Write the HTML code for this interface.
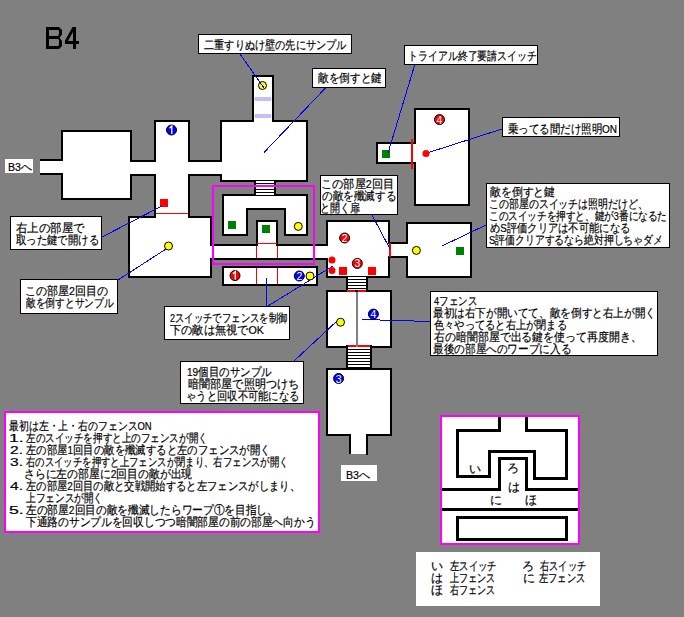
<!DOCTYPE html>
<html><head><meta charset="utf-8"><style>
html,body{margin:0;padding:0;width:684px;height:617px;overflow:hidden;background:#808080;font-family:"Liberation Sans",sans-serif;}
svg{position:absolute;left:0;top:0}
.b{position:absolute;background:#fff;}
.t{position:absolute;white-space:nowrap;color:#000;font-size:11.5px;line-height:12px;-webkit-text-stroke:0.2px #000;transform-origin:0 0;}
.title{position:absolute;left:44px;top:20px;font-size:30px;line-height:34px;color:#000;}
</style></head><body>
<svg width="684" height="617" shape-rendering="crispEdges">
<rect x="61" y="130" width="71" height="70" fill="#000"/>
<rect x="40" y="159" width="23" height="16" fill="#000"/>
<rect x="130" y="160" width="26" height="16" fill="#000"/>
<rect x="154" y="120" width="36" height="98" fill="#000"/>
<rect x="128" y="216" width="84" height="62" fill="#000"/>
<rect x="188" y="160" width="34" height="16" fill="#000"/>
<rect x="220" y="120" width="88" height="62" fill="#000"/>
<rect x="252" y="75" width="22" height="47" fill="#000"/>
<rect x="222" y="194" width="86" height="42" fill="#000"/>
<rect x="256" y="220" width="22" height="26" fill="#000"/>
<rect x="210" y="244" width="118" height="16" fill="#000"/>
<rect x="222" y="266" width="96" height="20" fill="#000"/>
<rect x="326" y="220" width="64" height="58" fill="#000"/>
<rect x="388" y="242" width="20" height="16" fill="#000"/>
<rect x="406" y="222" width="66" height="56" fill="#000"/>
<rect x="414" y="108" width="56" height="98" fill="#000"/>
<rect x="376" y="142" width="40" height="22" fill="#000"/>
<rect x="326" y="290" width="66" height="58" fill="#000"/>
<rect x="326" y="368" width="66" height="68" fill="#000"/>
<rect x="349" y="434" width="19" height="20" fill="#000"/>
<rect x="63" y="132" width="67" height="66" fill="#fff"/>
<rect x="40" y="161" width="23" height="12" fill="#fff"/>
<rect x="130" y="162" width="26" height="12" fill="#fff"/>
<rect x="156" y="122" width="32" height="96" fill="#fff"/>
<rect x="130" y="218" width="80" height="58" fill="#fff"/>
<rect x="188" y="162" width="34" height="12" fill="#fff"/>
<rect x="222" y="122" width="84" height="58" fill="#fff"/>
<rect x="254" y="77" width="18" height="45" fill="#fff"/>
<rect x="224" y="196" width="82" height="38" fill="#fff"/>
<rect x="258" y="222" width="18" height="24" fill="#fff"/>
<rect x="210" y="246" width="118" height="12" fill="#fff"/>
<rect x="224" y="268" width="92" height="16" fill="#fff"/>
<rect x="328" y="222" width="60" height="54" fill="#fff"/>
<rect x="388" y="244" width="20" height="12" fill="#fff"/>
<rect x="408" y="224" width="62" height="52" fill="#fff"/>
<rect x="416" y="110" width="52" height="94" fill="#fff"/>
<rect x="378" y="144" width="38" height="18" fill="#fff"/>
<rect x="328" y="292" width="62" height="54" fill="#fff"/>
<rect x="328" y="370" width="62" height="64" fill="#fff"/>
<rect x="351" y="434" width="15" height="20" fill="#fff"/>
<rect x="366" y="454" width="2" height="1" fill="#000"/>
<rect x="246" y="208" width="40" height="28" fill="#000"/>
<rect x="248" y="210" width="36" height="26" fill="#808080"/>
<rect x="256" y="220" width="22" height="26" fill="#000"/>
<rect x="258" y="222" width="18" height="24" fill="#fff"/>
<rect x="210" y="246" width="118" height="12" fill="#fff"/>
<rect x="254" y="180" width="22" height="16" fill="#000"/>
<rect x="256" y="181" width="18" height="2" fill="#fff"/>
<rect x="256" y="184" width="18" height="2" fill="#fff"/>
<rect x="256" y="187" width="18" height="2" fill="#fff"/>
<rect x="256" y="190" width="18" height="2" fill="#fff"/>
<rect x="256" y="193" width="18" height="2" fill="#fff"/>
<rect x="346" y="276" width="22" height="14" fill="#000"/>
<rect x="348" y="277" width="18" height="2" fill="#fff"/>
<rect x="348" y="280" width="18" height="2" fill="#fff"/>
<rect x="348" y="283" width="18" height="2" fill="#fff"/>
<rect x="348" y="286" width="18" height="2" fill="#fff"/>
<rect x="348" y="289" width="18" height="1" fill="#fff"/>
<rect x="346" y="345" width="26" height="24" fill="#000"/>
<rect x="348" y="347" width="22" height="2" fill="#fff"/>
<rect x="348" y="350" width="22" height="2" fill="#fff"/>
<rect x="348" y="353" width="22" height="2" fill="#fff"/>
<rect x="348" y="356" width="22" height="2" fill="#fff"/>
<rect x="348" y="359" width="22" height="2" fill="#fff"/>
<rect x="348" y="362" width="22" height="2" fill="#fff"/>
<rect x="348" y="365" width="22" height="2" fill="#fff"/>
<rect x="255" y="97" width="16" height="4" fill="#c0c0ff"/>
<rect x="255" y="114" width="16" height="4" fill="#c0c0ff"/>
<rect x="254" y="98" width="1" height="2" fill="#e0e0ff"/>
<rect x="271" y="98" width="1" height="2" fill="#e0e0ff"/>
<rect x="254" y="115" width="1" height="2" fill="#e0e0ff"/>
<rect x="271" y="115" width="1" height="2" fill="#e0e0ff"/>
<rect x="156" y="213" width="32" height="1" fill="#f00"/>
<rect x="257" y="243" width="20" height="1" fill="#f00"/>
<rect x="256" y="246" width="1" height="12" fill="#f00"/>
<rect x="277" y="246" width="1" height="12" fill="#f00"/>
<rect x="256" y="268" width="1" height="16" fill="#f00"/>
<rect x="277" y="268" width="1" height="16" fill="#f00"/>
<rect x="389" y="243" width="2" height="14" fill="#f00"/>
<rect x="411" y="139" width="2" height="30" fill="#f00"/>
<rect x="347" y="290" width="8" height="2" fill="#f00"/>
<rect x="358" y="290" width="8" height="2" fill="#f00"/>
<rect x="348" y="345" width="8" height="2" fill="#f00"/>
<rect x="358" y="345" width="12" height="2" fill="#f00"/>
<rect x="356" y="292" width="2" height="55" fill="#808080"/>
<rect x="228" y="221" width="8" height="8" fill="#008000"/>
<rect x="262" y="225" width="8" height="8" fill="#008000"/>
<rect x="382" y="150" width="8" height="8" fill="#008000"/>
<rect x="456" y="247" width="8" height="8" fill="#008000"/>
<rect x="160" y="199" width="8" height="8" fill="#f00"/>
<rect x="339" y="267" width="8" height="8" fill="#f00"/>
<rect x="368" y="267" width="8" height="8" fill="#f00"/>
<line x1="325.5" y1="88" x2="264" y2="152.5" stroke="#00f" stroke-width="1"/>
<line x1="415" y1="64" x2="388" y2="153" stroke="#00f" stroke-width="1"/>
<line x1="502" y1="129" x2="427" y2="153" stroke="#00f" stroke-width="1"/>
<line x1="102" y1="237" x2="162" y2="206" stroke="#00f" stroke-width="1"/>
<line x1="118" y1="280" x2="166" y2="249" stroke="#00f" stroke-width="1"/>
<line x1="266.5" y1="306" x2="266.5" y2="278" stroke="#00f" stroke-width="1"/>
<line x1="268" y1="306" x2="333" y2="266" stroke="#00f" stroke-width="1"/>
<line x1="294" y1="361" x2="337" y2="321" stroke="#00f" stroke-width="1"/>
<line x1="372" y1="215" x2="390" y2="249" stroke="#00f" stroke-width="1"/>
<line x1="486" y1="225" x2="442" y2="246" stroke="#00f" stroke-width="1"/>
<line x1="362" y1="319.5" x2="380" y2="319.5" stroke="#00f" stroke-width="1"/>
<line x1="380" y1="320.5" x2="414" y2="320.5" stroke="#00f" stroke-width="1"/>
<line x1="414" y1="321.5" x2="430" y2="321.5" stroke="#00f" stroke-width="1"/>
<circle cx="262.5" cy="85.5" r="4" fill="#ff0" stroke="#000" stroke-width="1" shape-rendering="geometricPrecision"/>
<circle cx="168.5" cy="246" r="4" fill="#ff0" stroke="#000" stroke-width="1" shape-rendering="geometricPrecision"/>
<circle cx="298.3" cy="226.4" r="4" fill="#ff0" stroke="#000" stroke-width="1" shape-rendering="geometricPrecision"/>
<circle cx="310" cy="276" r="4" fill="#ff0" stroke="#000" stroke-width="1" shape-rendering="geometricPrecision"/>
<circle cx="416.4" cy="250.4" r="4" fill="#ff0" stroke="#000" stroke-width="1" shape-rendering="geometricPrecision"/>
<circle cx="340.5" cy="322.2" r="4" fill="#ff0" stroke="#000" stroke-width="1" shape-rendering="geometricPrecision"/>
<circle cx="332" cy="260" r="3.5" fill="#f00" shape-rendering="geometricPrecision"/>
<circle cx="332" cy="270.6" r="3.5" fill="#f00" shape-rendering="geometricPrecision"/>
<circle cx="426" cy="153.5" r="3.5" fill="#f00" shape-rendering="geometricPrecision"/>
<circle cx="171.5" cy="130" r="5" fill="#00f" stroke="#000" stroke-width="1" shape-rendering="geometricPrecision"/>
<path d="M169.5,128.2 L171.8,126 L171.8,134" stroke="#fff" stroke-width="1.3" fill="none" shape-rendering="geometricPrecision"/>
<circle cx="235" cy="275.6" r="5" fill="#f00" stroke="#000" stroke-width="1" shape-rendering="geometricPrecision"/>
<path d="M233,273.8 L235.3,271.6 L235.3,279.6" stroke="#fff" stroke-width="1.3" fill="none" shape-rendering="geometricPrecision"/>
<circle cx="299.3" cy="276" r="5" fill="#00f" stroke="#000" stroke-width="1" shape-rendering="geometricPrecision"/>
<text x="299.3" y="280" fill="#fff" text-anchor="middle" style="font-family:'Liberation Sans',sans-serif;font-size:10.5px;font-weight:normal">2</text>
<circle cx="344.6" cy="238" r="5" fill="#f00" stroke="#000" stroke-width="1" shape-rendering="geometricPrecision"/>
<text x="344.6" y="242" fill="#fff" text-anchor="middle" style="font-family:'Liberation Sans',sans-serif;font-size:10.5px;font-weight:normal">2</text>
<circle cx="357.3" cy="263.4" r="5" fill="#f00" stroke="#000" stroke-width="1" shape-rendering="geometricPrecision"/>
<text x="357.3" y="267.4" fill="#fff" text-anchor="middle" style="font-family:'Liberation Sans',sans-serif;font-size:10.5px;font-weight:normal">3</text>
<circle cx="439.5" cy="119.6" r="5" fill="#f00" stroke="#000" stroke-width="1" shape-rendering="geometricPrecision"/>
<text x="439.5" y="123.6" fill="#fff" text-anchor="middle" style="font-family:'Liberation Sans',sans-serif;font-size:10.5px;font-weight:normal">4</text>
<circle cx="373.4" cy="314.1" r="5" fill="#00f" stroke="#000" stroke-width="1" shape-rendering="geometricPrecision"/>
<text x="373.4" y="318.1" fill="#fff" text-anchor="middle" style="font-family:'Liberation Sans',sans-serif;font-size:10.5px;font-weight:normal">4</text>
<circle cx="338.6" cy="378.5" r="5" fill="#00f" stroke="#000" stroke-width="1" shape-rendering="geometricPrecision"/>
<text x="338.6" y="382.5" fill="#fff" text-anchor="middle" style="font-family:'Liberation Sans',sans-serif;font-size:10.5px;font-weight:normal">3</text>
<line x1="240" y1="54" x2="264" y2="88" stroke="#00f" stroke-width="1"/>
<rect x="213" y="186" width="101" height="78" fill="none" stroke="#f0f" stroke-width="2"/>
<g shape-rendering="geometricPrecision">
<polygon points="46,27 59,27 62,30 62,34.5 60,37 60,38.5 62,41 62,46 59,49 46,49" fill="#000"/>
<polygon points="49,30 58,30 59,31 59,34 58,36 49,36" fill="#808080"/>
<polygon points="49,39 58,39 59,40 59,45 58,46 49,46" fill="#808080"/>
<polygon points="72.5,27 76,27 76,41 79,41 79,44 76,44 76,49 73,49 73,44 65,44 65,40.5" fill="#000"/>
<polygon points="73,32 73,41 68,41" fill="#808080"/>
</g>
<rect x="440" y="415" width="140" height="130" fill="#f0f"/>
<rect x="442" y="417" width="136" height="126" fill="#fff"/>
<rect x="498" y="417" width="3" height="15" fill="#000"/>
<rect x="525" y="417" width="3" height="15" fill="#000"/>
<rect x="456" y="429" width="45" height="3" fill="#000"/>
<rect x="525" y="429" width="43" height="3" fill="#000"/>
<rect x="456" y="429" width="3" height="49" fill="#000"/>
<rect x="456" y="475" width="35" height="3" fill="#000"/>
<rect x="488" y="450" width="3" height="28" fill="#000"/>
<rect x="488" y="450" width="48" height="3" fill="#000"/>
<rect x="533" y="450" width="3" height="30" fill="#000"/>
<rect x="533" y="477" width="35" height="3" fill="#000"/>
<rect x="565" y="429" width="3" height="51" fill="#000"/>
<rect x="498" y="457" width="30" height="3" fill="#000"/>
<rect x="498" y="457" width="3" height="34" fill="#000"/>
<rect x="525" y="457" width="3" height="34" fill="#000"/>
<rect x="442" y="488" width="59" height="3" fill="#000"/>
<rect x="525" y="488" width="53" height="3" fill="#000"/>
<rect x="442" y="508" width="136" height="3" fill="#000"/>
<rect x="456" y="516" width="112" height="25" fill="#000"/>
<rect x="459" y="519" width="106" height="19" fill="#fff"/>
</svg>
<div class="b" style="left:198px;top:34px;width:152px;height:18px;border:1px solid #000;"></div><div class="b" style="left:312px;top:68px;width:72px;height:18px;border:1px solid #000;"></div><div class="b" style="left:404px;top:45px;width:132px;height:18px;border:1px solid #000;"></div><div class="b" style="left:502px;top:117px;width:116px;height:18px;border:1px solid #000;"></div><div class="b" style="left:5px;top:159px;width:28px;height:14px;"></div><div class="b" style="left:10px;top:216px;width:90px;height:32px;border:1px solid #000;"></div><div class="b" style="left:20px;top:279px;width:96px;height:33px;border:1px solid #000;"></div><div class="b" style="left:164px;top:306px;width:124px;height:32px;border:1px solid #000;"></div><div class="b" style="left:180px;top:361px;width:122px;height:41px;border:1px solid #000;"></div><div class="b" style="left:320px;top:175px;width:76px;height:38px;border:1px solid #000;"></div><div class="b" style="left:486px;top:183px;width:182px;height:63px;border:1px solid #000;"></div><div class="b" style="left:430px;top:291px;width:226px;height:63px;border:1px solid #000;"></div><div class="b" style="left:341px;top:465px;width:36px;height:16px;"></div><div class="b" style="left:416px;top:552px;width:184px;height:54px;"></div><div class="b" style="left:4px;top:411px;width:312px;height:118px;border:2px solid #f0f;"></div><div class="t" style="left:204.00px;top:39.00px;transform:scaleX(0.8473)">二重すりぬけ壁の先にサンプル</div><div class="t" style="left:318.00px;top:72.00px;transform:scaleX(0.8857)">敵を倒すと鍵</div><div class="t" style="left:407.69px;top:50.00px;transform:scaleX(0.8267)">トライアル終了要請スイッチ</div><div class="t" style="left:508.00px;top:123.00px;transform:scaleX(0.871)">乗ってる間だけ照明ON</div><div class="t" style="left:8.08px;top:161.00px;transform:scaleX(0.9167)">B3へ</div><div class="t" style="left:345.68px;top:469.00px;transform:scaleX(0.925)">B3へ</div><div class="t" style="left:16.00px;top:222.00px;transform:scaleX(0.9563)">右上の部屋で</div><div class="t" style="left:16.00px;top:234.00px;transform:scaleX(0.8638)">取った鍵で開ける</div><div class="t" style="left:24.88px;top:285.00px;transform:scaleX(0.917)">この部屋2回目の</div><div class="t" style="left:25.80px;top:297.00px;transform:scaleX(0.8112)">敵を倒すとサンプル</div><div class="t" style="left:169.70px;top:312.00px;transform:scaleX(0.7811)">2スイッチでフェンスを制御</div><div class="t" style="left:169.70px;top:324.00px;transform:scaleX(0.9343)">下の敵は無視でOK</div><div class="t" style="left:187.13px;top:366.00px;transform:scaleX(0.8726)">19個目のサンプル</div><div class="t" style="left:188.00px;top:378.00px;transform:scaleX(0.9263)">暗闇部屋で照明つけち</div><div class="t" style="left:186.28px;top:390.00px;transform:scaleX(0.8586)">ゃうと回収不可能になる</div><div class="t" style="left:321.07px;top:177.50px;transform:scaleX(0.9324)">この部屋2回目</div><div class="t" style="left:322.00px;top:189.50px;transform:scaleX(0.8854)">の敵を殲滅する</div><div class="t" style="left:320.32px;top:201.50px;transform:scaleX(0.8409)">と開く扉</div><div class="t" style="left:489.60px;top:186.00px;transform:scaleX(0.9057)">敵を倒すと鍵</div><div class="t" style="left:488.77px;top:198.00px;transform:scaleX(0.8264)">この部屋のスイッチは照明だけど、</div><div class="t" style="left:488.80px;top:210.00px;transform:scaleX(0.8)">このスイッチを押すと、鍵が3番になるた</div><div class="t" style="left:489.60px;top:222.00px;transform:scaleX(0.8556)">めS評価クリアは不可能になる</div><div class="t" style="left:488.78px;top:234.00px;transform:scaleX(0.8212)">S評価クリアするなら絶対押しちゃダメ</div><div class="t" style="left:433.60px;top:295.00px;transform:scaleX(0.7923)">4フェンス</div><div class="t" style="left:432.72px;top:307.00px;transform:scaleX(0.8841)">最初は右下が開いてて、敵を倒すと右上が開く</div><div class="t" style="left:433.60px;top:319.00px;transform:scaleX(0.8513)">色々やってると右上が閉まる</div><div class="t" style="left:433.60px;top:331.00px;transform:scaleX(0.9114)">右の暗闇部屋で出る鍵を使って再度開き、</div><div class="t" style="left:432.71px;top:343.00px;transform:scaleX(0.8863)">最後の部屋へのワープに入る</div><div class="t" style="left:9.18px;top:419.50px;transform:scaleX(0.8234)">最初は左・上・右のフェンスON</div><div class="t" style="left:8.66px;top:431.50px;transform:scaleX(1.5429)">1.</div><div class="t" style="left:25.80px;top:431.50px;transform:scaleX(0.7969)">左のスイッチを押すと上のフェンスが開く</div><div class="t" style="left:10.20px;top:443.50px;transform:scaleX(1.35)">2.</div><div class="t" style="left:25.80px;top:443.50px;transform:scaleX(0.8657)">左の部屋1回目の敵を殲滅すると左のフェンスが開く</div><div class="t" style="left:10.20px;top:455.50px;transform:scaleX(1.35)">3.</div><div class="t" style="left:25.80px;top:455.50px;transform:scaleX(0.781)">右のスイッチを押すと上フェンスが閉まり、右フェンスが開く</div><div class="t" style="left:23.99px;top:467.50px;transform:scaleX(0.9027)">さらに左の部屋に2回目の敵が出現</div><div class="t" style="left:10.20px;top:479.50px;transform:scaleX(1.35)">4.</div><div class="t" style="left:25.80px;top:479.50px;transform:scaleX(0.8605)">左の部屋2回目の敵と交戦開始すると左フェンスがしまり、</div><div class="t" style="left:25.80px;top:491.50px;transform:scaleX(0.8033)">上フェンスが開く</div><div class="t" style="left:8.66px;top:503.50px;transform:scaleX(1.5429)">5.</div><div class="t" style="left:25.80px;top:503.50px;transform:scaleX(0.8919)">左の部屋2回目の敵を殲滅したらワープ①を目指し、</div><div class="t" style="left:25.80px;top:515.50px;transform:scaleX(0.8931)">下通路のサンプルを回収しつつ暗闇部屋の前の部屋へ向かう</div><div class="t" style="left:430.70px;top:560.00px">い</div><div class="t" style="left:450.00px;top:559.50px;transform:scaleX(0.781)">左スイッチ</div><div class="t" style="left:431.40px;top:572.00px">は</div><div class="t" style="left:450.00px;top:572.00px;transform:scaleX(0.7552)">上フェンス</div><div class="t" style="left:431.40px;top:584.00px">ほ</div><div class="t" style="left:450.00px;top:583.60px;transform:scaleX(0.7552)">右フェンス</div><div class="t" style="left:521.90px;top:560.00px">ろ</div><div class="t" style="left:540.00px;top:560.00px;transform:scaleX(0.7707)">右スイッチ</div><div class="t" style="left:523.20px;top:572.00px">に</div><div class="t" style="left:538.70px;top:572.00px;transform:scaleX(0.7707)">左フェンス</div><div class="t" style="left:468.50px;top:463.00px">い</div><div class="t" style="left:506.70px;top:462.00px">ろ</div><div class="t" style="left:507.70px;top:480.50px">は</div><div class="t" style="left:490.40px;top:494.40px">に</div><div class="t" style="left:525.00px;top:494.40px">ほ</div>
</body></html>
